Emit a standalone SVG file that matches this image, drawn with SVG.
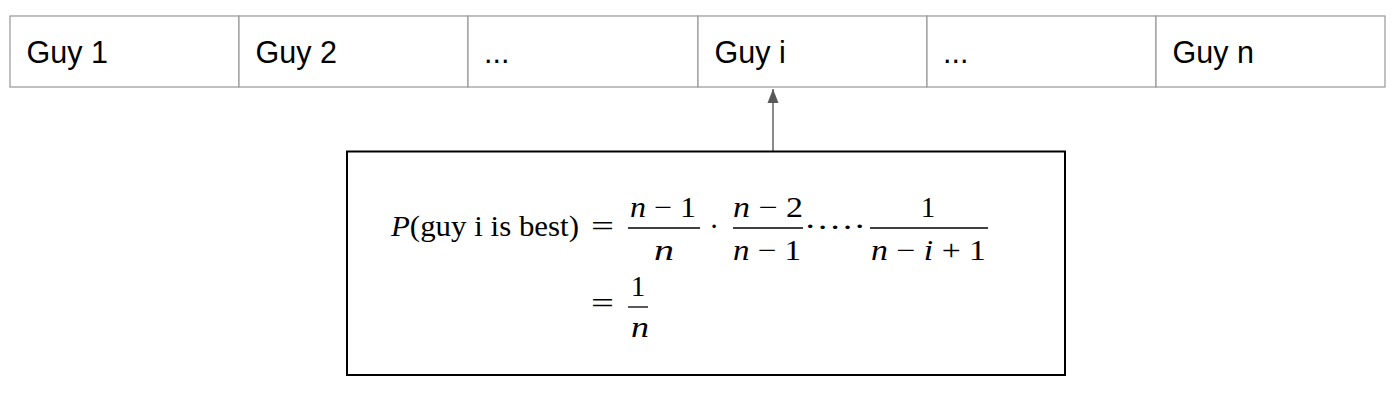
<svg xmlns="http://www.w3.org/2000/svg" width="1400" height="403" viewBox="0 0 1400 403">
<style>
.cell{fill:#fff;stroke:#9e9e9e;stroke-width:1.3}
.lbl{font-family:"Liberation Sans",Arial,sans-serif;font-size:30.5px;fill:#000}
.m{font-family:"Liberation Serif","Times New Roman",serif;font-size:29px;fill:#000}
.it{font-style:italic}
.bar{stroke:#000;stroke-width:1.3}
.conn{stroke:#595959;stroke-width:1.4;fill:none}
</style>
<defs>
<marker id="ah" markerUnits="userSpaceOnUse" markerWidth="14" markerHeight="12" refX="14" refY="6" orient="auto">
<path d="M0,0.5 L14,6 L0,11.5 z" fill="#595959"/>
</marker>
</defs>
<rect width="1400" height="403" fill="#fff"/>
<g id="guy1"><rect class="cell" x="10" y="16" width="229" height="71"/><text class="lbl" x="26.5" y="63">Guy 1</text></g>
<g id="guy2"><rect class="cell" x="239" y="16" width="229" height="71"/><text class="lbl" x="255.5" y="63">Guy 2</text></g>
<g id="dots1"><rect class="cell" x="468" y="16" width="230" height="71"/><text class="lbl" x="484" y="63">...</text></g>
<g id="guyi"><rect class="cell" x="698" y="16" width="229" height="71"/><text class="lbl" x="714.5" y="63">Guy i</text></g>
<g id="dots2"><rect class="cell" x="927" y="16" width="229" height="71"/><text class="lbl" x="943" y="63">...</text></g>
<g id="guyn"><rect class="cell" x="1156" y="16" width="229" height="71"/><text class="lbl" x="1172.5" y="63">Guy n</text></g>
<g id="connectors">
<line class="conn" x1="773" y1="151" x2="773" y2="89" marker-end="url(#ah)"/>
</g>
<g id="formula">
<rect x="347" y="151.5" width="718" height="223.5" fill="#fff" stroke="#000" stroke-width="2"/>
<text class="m" x="391" y="236" textLength="188" lengthAdjust="spacingAndGlyphs"><tspan class="it">P</tspan>(guy i is best)</text>
<text class="m" x="591" y="236" textLength="23" lengthAdjust="spacingAndGlyphs">=</text>
<text class="m" x="630" y="217" textLength="66" lengthAdjust="spacingAndGlyphs"><tspan class="it">n</tspan> − 1</text>
<line class="bar" x1="628" y1="228" x2="700" y2="228"/>
<text class="m it" x="654" y="260" textLength="20" lengthAdjust="spacingAndGlyphs">n</text>
<text class="m" x="714" y="236" text-anchor="middle">·</text>
<text class="m" x="733" y="217" textLength="70" lengthAdjust="spacingAndGlyphs"><tspan class="it">n</tspan> − 2</text>
<line class="bar" x1="733" y1="228" x2="803" y2="228"/>
<text class="m" x="733" y="260" textLength="68" lengthAdjust="spacingAndGlyphs"><tspan class="it">n</tspan> − 1</text>
<text class="m" x="804" y="236" textLength="62" lengthAdjust="spacingAndGlyphs">·<tspan dy="-7">…</tspan><tspan dy="7">·</tspan></text>
<text class="m" x="928" y="217" text-anchor="middle">1</text>
<line class="bar" x1="870" y1="228" x2="988" y2="228"/>
<text class="m" x="871" y="260" textLength="115" lengthAdjust="spacingAndGlyphs"><tspan class="it">n</tspan> − <tspan class="it">i</tspan> + 1</text>
<text class="m" x="591" y="313" textLength="23" lengthAdjust="spacingAndGlyphs">=</text>
<text class="m" x="638" y="296" text-anchor="middle">1</text>
<line class="bar" x1="628" y1="307" x2="648" y2="307"/>
<text class="m it" x="631" y="337" textLength="18" lengthAdjust="spacingAndGlyphs">n</text>
</g>
</svg>
